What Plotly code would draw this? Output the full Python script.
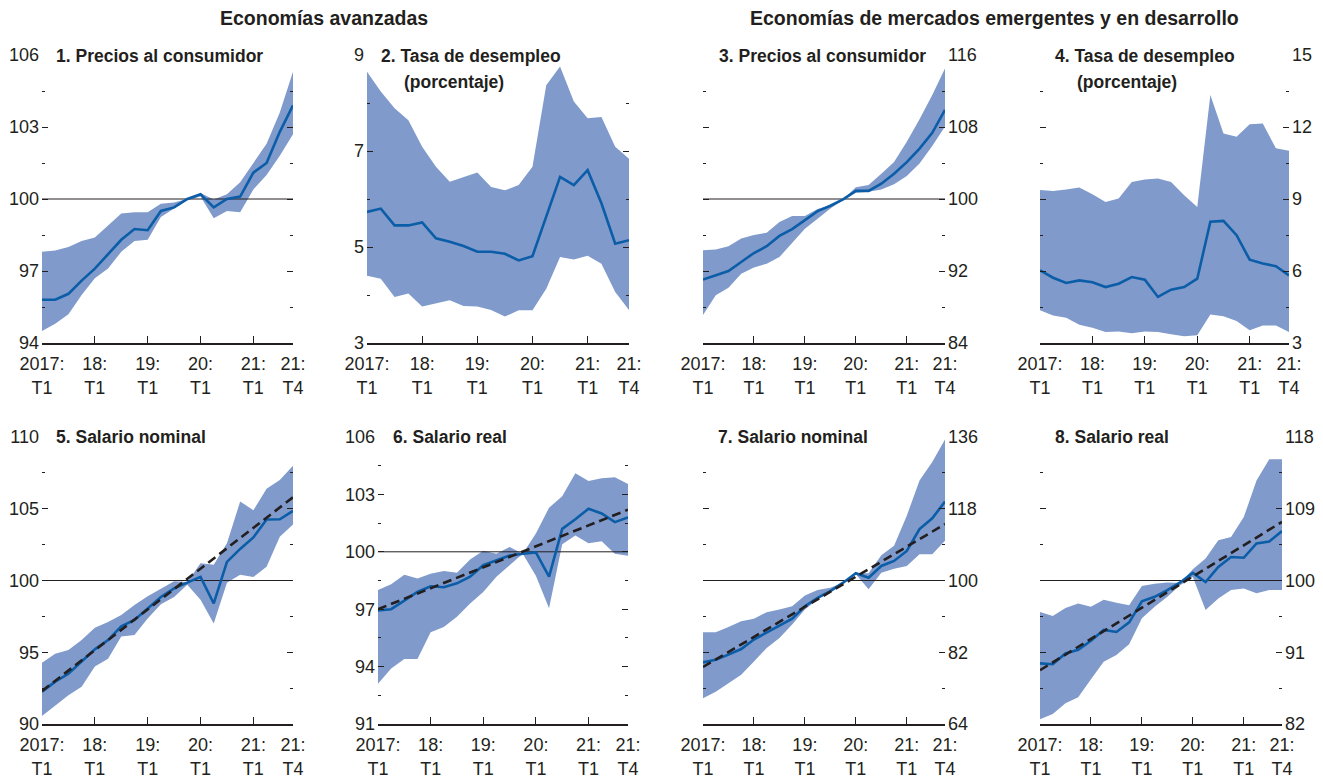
import plotly.graph_objects as go

W, H = 1323, 780
OFF = 8  # page body margin applied by the browser
FONT = "Liberation Sans, Arial, Helvetica, sans-serif"
BAND = "#7F9ACB"
LINE = "#0B5DA8"
INK = "#231F20"

# ---------------- data ----------------
quarters = list(range(20))  # 2017:T1 ... 2021:T4
tick_pos = [0, 4, 8, 12, 16, 19]
tick_text = ["2017:<br>T1", "18:<br>T1", "19:<br>T1", "20:<br>T1", "21:<br>T1", "21:<br>T4"]

header_adv = "Economías avanzadas"
header_eme = "Economías de mercados emergentes y en desarrollo"

titles = ["1. Precios al consumidor", "2. Tasa de desempleo", "3. Precios al consumidor",
          "4. Tasa de desempleo", "5. Salario nominal", "6. Salario real",
          "7. Salario nominal", "8. Salario real"]
subtitle = "(porcentaje)"

p1_med = [95.8, 95.8, 96.05, 96.6, 97.1, 97.7, 98.3, 98.75, 98.7, 99.5, 99.65, 100.0, 100.2, 99.65, 100.0, 100.1, 101.1, 101.5, 102.8, 103.9]
p1_hi = [97.8, 97.85, 98.0, 98.25, 98.4, 98.9, 99.4, 99.45, 99.45, 99.8, 99.85, 100.0, 100.25, 99.98, 100.2, 100.7, 101.5, 102.3, 103.6, 105.3]
p1_lo = [94.5, 94.8, 95.2, 96.0, 96.7, 97.1, 97.8, 98.25, 98.3, 99.25, 99.6, 99.95, 100.1, 99.2, 99.5, 99.45, 100.4, 101.0, 101.8, 102.7]

p2_med = [5.73, 5.80, 5.45, 5.45, 5.51, 5.18, 5.11, 5.02, 4.90, 4.90, 4.86, 4.72, 4.81, 5.63, 6.46, 6.29, 6.60, 5.91, 5.07, 5.14]
p2_hi = [8.65, 8.24, 7.89, 7.64, 7.09, 6.67, 6.36, 6.46, 6.55, 6.25, 6.18, 6.29, 6.67, 8.37, 8.76, 8.03, 7.68, 7.71, 7.09, 6.84]
p2_lo = [4.40, 4.34, 3.96, 4.03, 3.76, 3.83, 3.89, 3.77, 3.76, 3.69, 3.55, 3.68, 3.68, 4.13, 4.79, 4.74, 4.82, 4.65, 4.06, 3.69]

p3_med = [91.05, 91.5, 92.0, 93.0, 94.0, 94.75, 95.9, 96.65, 97.65, 98.65, 99.25, 99.95, 100.9, 100.9, 101.7, 102.8, 104.1, 105.6, 107.35, 109.9]
p3_hi = [94.3, 94.4, 94.75, 95.6, 96.0, 96.25, 97.45, 98.1, 98.1, 98.9, 99.3, 99.95, 101.3, 101.55, 102.8, 104.1, 106.35, 108.85, 111.55, 114.5]
p3_lo = [87.1, 89.3, 90.15, 91.7, 92.4, 92.8, 93.55, 95.1, 96.7, 97.8, 98.95, 99.9, 100.7, 100.8, 101.05, 101.65, 102.55, 103.95, 105.9, 108.05]

p4_med = [6.03, 5.72, 5.50, 5.61, 5.53, 5.33, 5.47, 5.75, 5.64, 4.92, 5.22, 5.33, 5.68, 8.05, 8.09, 7.49, 6.47, 6.31, 6.20, 5.82]
p4_hi = [9.37, 9.33, 9.40, 9.48, 9.20, 8.88, 9.02, 9.71, 9.81, 9.85, 9.71, 9.16, 8.67, 13.33, 11.73, 11.59, 12.11, 12.15, 11.11, 11.01]
p4_lo = [4.36, 4.15, 4.05, 3.76, 3.64, 3.46, 3.48, 3.41, 3.48, 3.46, 3.36, 3.28, 3.32, 4.19, 4.11, 3.92, 3.53, 3.73, 3.73, 3.46]

p5_med = [92.25, 92.95, 93.5, 94.35, 95.2, 95.85, 96.8, 97.25, 98.05, 98.85, 99.45, 99.85, 100.25, 98.4, 101.3, 102.2, 103.0, 104.25, 104.27, 104.85]
p5_hi = [94.27, 94.9, 95.15, 95.85, 96.7, 97.1, 97.6, 98.3, 98.9, 99.45, 99.95, 99.9, 101.2, 101.1, 102.6, 105.5, 104.9, 106.4, 107.0, 108.0]
p5_lo = [90.55, 91.25, 92.0, 92.6, 94.0, 94.55, 96.1, 96.2, 97.35, 98.35, 98.85, 99.7, 98.65, 97.0, 99.85, 100.4, 100.25, 100.95, 103.05, 103.9]
p5_trend = [92.3, 105.8]

p6_med = [96.94, 97.0, 97.45, 97.9, 98.2, 98.15, 98.35, 98.7, 99.3, 99.55, 99.8, 99.9, 99.97, 98.7, 101.2, 101.7, 102.25, 102.0, 101.55, 101.8]
p6_hi = [98.0, 98.3, 98.8, 98.6, 98.85, 99.0, 98.9, 99.6, 100.05, 99.9, 100.25, 99.9, 100.95, 102.3, 102.9, 104.1, 103.7, 103.85, 103.9, 103.55]
p6_lo = [93.1, 93.9, 94.4, 94.4, 95.8, 96.07, 96.6, 97.3, 97.9, 98.7, 99.3, 99.9, 98.75, 97.05, 100.4, 100.85, 100.45, 100.55, 99.9, 99.8]
p6_trend = [97.0, 102.2]

p7_med = [79.45, 80.1, 81.4, 82.8, 85.2, 86.85, 88.7, 90.4, 93.55, 95.65, 97.35, 99.45, 101.8, 100.7, 103.65, 104.9, 107.4, 112.9, 115.6, 119.8]
p7_hi = [87.0, 87.0, 88.35, 89.8, 90.4, 92.05, 92.7, 93.55, 96.25, 97.6, 98.2, 99.45, 101.8, 101.8, 106.35, 108.7, 116.25, 125.1, 129.7, 135.4]
p7_lo = [70.45, 72.1, 74.2, 76.35, 79.7, 83.05, 85.6, 88.95, 92.7, 95.25, 97.35, 99.45, 101.55, 97.8, 101.95, 102.95, 103.65, 106.6, 106.6, 109.95]
p7_trend = [78.3, 114.15]

p8_med = [89.6, 89.5, 90.85, 91.3, 92.45, 93.8, 93.55, 94.75, 97.4, 97.95, 98.8, 99.75, 100.95, 99.8, 101.7, 102.95, 102.85, 104.65, 104.9, 106.2]
p8_hi = [96.05, 95.55, 96.55, 97.1, 96.7, 97.6, 97.2, 96.9, 99.3, 99.6, 99.75, 99.7, 101.4, 102.75, 105.05, 105.45, 107.95, 112.55, 115.2, 115.2]
p8_lo = [82.6, 83.25, 84.6, 85.35, 87.6, 89.8, 90.65, 92.0, 95.25, 96.7, 97.95, 99.4, 100.45, 96.3, 97.75, 98.8, 99.0, 98.4, 98.8, 98.8]
p8_trend = [88.75, 107.35]

ref_level = 100

y_ranges = [(94, 106), (3, 9), (84, 116), (3, 15), (90, 110), (91, 106), (64, 136), (82, 118)]
y_dticks = [3, 2, 8, 3, 5, 3, 18, 9]

# ---------------- layout geometry (pixels in the final screenshot) ----------------
panel_x = [(42, 293), (367, 629), (703, 945), (1040, 1289),
           (42, 293), (378, 628), (703, 945), (1040, 1282)]
row_y = [(55, 343), (437, 724)]
title_pos = [(54, 56), (379, 56), (717, 56), (1053, 56),
             (54, 437), (391, 437), (716, 437), (1053, 437)]
subtitle_pos = [(402, 82), (1075, 82)]
label_side = ["left", "left", "right", "right", "left", "left", "right", "right"]
show_ref = [True, False, True, False, True, True, True, True]


def px(x):
    return (x - OFF) / W


def py(y):
    return 1 - (y - OFF) / H


meds = [p1_med, p2_med, p3_med, p4_med, p5_med, p6_med, p7_med, p8_med]
his = [p1_hi, p2_hi, p3_hi, p4_hi, p5_hi, p6_hi, p7_hi, p8_hi]
los = [p1_lo, p2_lo, p3_lo, p4_lo, p5_lo, p6_lo, p7_lo, p8_lo]
trends = [None, None, None, None, p5_trend, p6_trend, p7_trend, p8_trend]

fig = go.Figure()
annotations = []
TICKFONT = dict(family=FONT, size=18, color=INK)
TITLEFONT = dict(family=FONT, size=17.5, color=INK)

for i in range(8):
    n = i + 1
    xa = "x" if n == 1 else f"x{n}"
    ya = "y" if n == 1 else f"y{n}"
    fig.add_trace(go.Scatter(x=quarters, y=los[i], mode="lines", line=dict(width=0, color=BAND),
                             xaxis=xa, yaxis=ya, showlegend=False, hoverinfo="skip"))
    fig.add_trace(go.Scatter(x=quarters, y=his[i], mode="lines", line=dict(width=0, color=BAND),
                             fill="tonexty", fillcolor=BAND,
                             xaxis=xa, yaxis=ya, showlegend=False, hoverinfo="skip"))
    if show_ref[i]:
        fig.add_trace(go.Scatter(x=[quarters[0], quarters[-1]], y=[ref_level, ref_level], mode="lines",
                                 line=dict(width=1, color=INK),
                                 xaxis=xa, yaxis=ya, showlegend=False, hoverinfo="skip"))
    fig.add_trace(go.Scatter(x=quarters, y=meds[i], mode="lines", line=dict(width=2.6, color=LINE),
                             xaxis=xa, yaxis=ya, showlegend=False))
    if trends[i] is not None:
        fig.add_trace(go.Scatter(x=[quarters[0], quarters[-1]], y=trends[i], mode="lines",
                                 line=dict(width=2.6, color=INK, dash="9px,5px"),
                                 xaxis=xa, yaxis=ya, showlegend=False))

    x0, x1 = panel_x[i]
    y0, y1 = row_y[0] if i < 4 else row_y[1]
    lo, hi = y_ranges[i]
    xkey = "xaxis" if n == 1 else f"xaxis{n}"
    ykey = "yaxis" if n == 1 else f"yaxis{n}"
    fig.update_layout({
        xkey: dict(domain=[px(x0), px(x1)], anchor=ya, range=[0, 19], automargin=False,
                   tickmode="array", tickvals=tick_pos, ticktext=tick_text,
                   ticks="inside", ticklen=7, tickwidth=1.2, tickcolor=INK, ticklabelstandoff=4,
                   showline=True, linecolor=INK, linewidth=1.5,
                   showgrid=False, zeroline=False, tickfont=TICKFONT, fixedrange=True),
        ykey: dict(domain=[py(y1), py(y0)], anchor=xa, range=[lo, hi], automargin=False,
                   tickmode="linear", tick0=lo, dtick=y_dticks[i],
                   ticks="inside", ticklen=6, tickwidth=1.2, tickcolor=INK, ticklabelstandoff=2,
                   mirror="ticks", showline=False, side=label_side[i],
                   minor=dict(tickmode="linear", tick0=lo, dtick=y_dticks[i] / 2,
                              ticks="inside", ticklen=3, tickwidth=1.2, tickcolor=INK),
                   showgrid=False, zeroline=False, tickfont=TICKFONT, fixedrange=True),
    })
    tx, ty = title_pos[i]
    annotations.append(dict(text=f"<b>{titles[i]}</b>", x=px(tx), y=py(ty), xref="paper", yref="paper",
                            xanchor="left", yanchor="middle", showarrow=False, font=TITLEFONT))

for (sx, sy) in subtitle_pos:
    annotations.append(dict(text=f"<b>{subtitle}</b>", x=px(sx), y=py(sy), xref="paper", yref="paper",
                            xanchor="left", yanchor="middle", showarrow=False, font=TITLEFONT))

HEADFONT = dict(family=FONT, size=19.5, color=INK)
annotations.append(dict(text=f"<b>{header_adv}</b>", x=px(324), y=py(18), xref="paper", yref="paper",
                        xanchor="center", yanchor="middle", showarrow=False, font=HEADFONT))
annotations.append(dict(text=f"<b>{header_eme}</b>", x=px(994), y=py(18), xref="paper", yref="paper",
                        xanchor="center", yanchor="middle", showarrow=False, font=HEADFONT))

fig.update_layout(template="none", width=W, height=H, autosize=False,
                  margin=dict(l=0, r=0, t=0, b=0, pad=0),
                  font=dict(family=FONT, color=INK),
                  paper_bgcolor="white", plot_bgcolor="white", annotations=annotations,
                  showlegend=False)

fig.write_html("out.html")
